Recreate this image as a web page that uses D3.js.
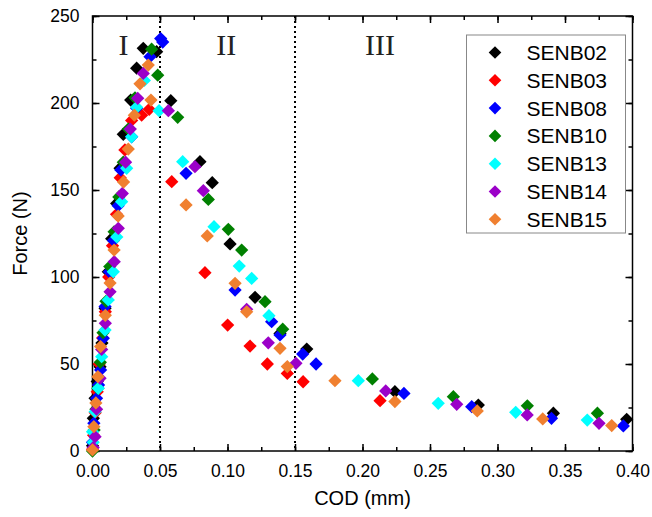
<!DOCTYPE html>
<html>
<head>
<meta charset="utf-8">
<script src="https://cdn.jsdelivr.net/npm/d3@7"></script>
<style>
  body { margin: 0; background: #fff; }
  svg { display: block; font-family: "Liberation Sans", Arial, sans-serif; }
</style>
</head>
<body>
<div id="chart"></div>
<script>
/////////////////////////////////////////////////////////
//////////////////////// Data ///////////////////////////
/////////////////////////////////////////////////////////

// each point is [COD (mm), Force (N)]
var senb02 = [[0,3],[0.0006,18.8],[0.0019,30.3],[0.0035,40],[0.0056,48.4],[0.007,62],[0.0093,82],[0.0117,103],[0.0142,122],[0.0179,142.3],[0.0204,162.5],[0.0228,182],[0.0283,201.7],[0.0327,220],[0.0376,231.4],[0.0475,229.5],[0.058,201.3],[0.0796,166.3],[0.0887,154.2],[0.1019,119],[0.1204,88.3],[0.1389,67.6],[0.1587,58.6],[0.224,34.1],[0.2858,26.4],[0.3414,21.7],[0.3957,18.2]];
var senb03 = [[0,1],[0.0008,9],[0.002,22],[0.0035,34],[0.005,50],[0.0075,65],[0.0095,80],[0.012,100],[0.0148,118],[0.0178,136],[0.0205,157],[0.024,173],[0.029,190],[0.0364,193],[0.042,196.4],[0.0587,154.8],[0.0833,102.5],[0.1001,72.4],[0.1167,60.3],[0.1295,50],[0.1443,44.6],[0.156,39.8],[0.213,28.9]];
var senb08 = [[0,5],[0.001,16],[0.003,30.3],[0.0045,38],[0.006,46.6],[0.008,64.8],[0.0093,83],[0.0125,103],[0.0155,121],[0.019,141],[0.021,161.5],[0.029,180.6],[0.0327,197],[0.0426,226.6],[0.0505,237],[0.052,235],[0.0693,159.6],[0.1056,92.5],[0.1327,74.3],[0.1389,66.7],[0.1557,55.7],[0.1656,50],[0.2307,33.1],[0.2809,25.5],[0.340,18.8],[0.3932,14.4]];
var senb10 = [[0,0],[0.0012,12],[0.0025,24],[0.004,36],[0.0058,51],[0.0078,68],[0.01,86],[0.0128,106],[0.016,126],[0.0195,146],[0.0228,166],[0.0265,185],[0.0315,203],[0.0438,230.9],[0.0483,216],[0.0631,191.8],[0.0858,144.6],[0.1006,127.4],[0.1105,115.5],[0.1278,85.8],[0.1409,70],[0.2073,41.4],[0.2673,31.2],[0.3221,26],[0.374,21.7]];
var senb13 = [[0.0005,5],[0,11],[0.0019,22.6],[0.0043,36],[0.0068,54.2],[0.0093,69.5],[0.0117,86.8],[0.0154,103],[0.018,123],[0.0216,143.3],[0.0253,162.5],[0.029,180.6],[0.0327,197.5],[0.0384,213],[0.0493,195.6],[0.0668,166.3],[0.090,128.9],[0.1087,106.3],[0.1179,99.2],[0.1307,77.8],[0.1969,40.4],[0.2561,27.4],[0.3135,22.2],[0.3665,17.8]];
var senb14 = [[0.0005,2],[0.0019,8.2],[0.003,24],[0.0056,41.8],[0.0068,58.4],[0.0095,73.4],[0.013,91.5],[0.0161,108.8],[0.0191,128],[0.0221,148],[0.0245,166],[0.028,185],[0.0335,202.7],[0.0376,217],[0.0562,195.6],[0.0759,163.4],[0.0821,149.6],[0.1142,81.4],[0.1302,62.2],[0.1507,50.4],[0.2172,34.5],[0.2698,26.8],[0.322,20.7],[0.3752,15.9]];
var senb15 = [[0,0.6],[0.001,14],[0.0025,27.6],[0.004,42.7],[0.006,60],[0.0095,78],[0.013,96.5],[0.016,115.5],[0.019,135],[0.023,154.6],[0.0265,173.5],[0.031,193],[0.0352,211],[0.0413,221.8],[0.0433,201.7],[0.0693,141.4],[0.085,123.6],[0.1056,96.4],[0.1142,80],[0.1389,59],[0.1443,48.5],[0.1796,40.4],[0.224,28.4],[0.285,23],[0.3335,18.4],[0.3846,14.6]];

var seriesNames = ['SENB02', 'SENB03', 'SENB08', 'SENB10', 'SENB13', 'SENB14', 'SENB15'];
var seriesValues = [senb02, senb03, senb08, senb10, senb13, senb14, senb15];
var seriesColors = ['#000000', '#ff0000', '#0000ff', '#008000', '#00ffff', '#9b00c8', '#f08030'];

var xTicks = [0, 0.05, 0.10, 0.15, 0.20, 0.25, 0.30, 0.35, 0.40];
var yTicks = [0, 50, 100, 150, 200, 250];
var stageBounds = [0.05, 0.15];
var stageLabels = [{text: 'I', x: 0.023}, {text: 'II', x: 0.099}, {text: 'III', x: 0.213}];

/////////////////////////////////////////////////////////
////////////////// Container & scales ///////////////////
/////////////////////////////////////////////////////////

var W = 652, H = 517;
var margin = {top: 16, right: 19.5, bottom: 66, left: 92.5};
var width = W - margin.left - margin.right;
var height = H - margin.top - margin.bottom;

var svg = d3.select('#chart').append('svg')
  .attr('width', W)
  .attr('height', H);

var g = svg.append('g')
  .attr('transform', 'translate(' + margin.left + ',' + margin.top + ')');

var x = d3.scaleLinear().domain([0, 0.4]).range([0, width]);
var y = d3.scaleLinear().domain([0, 250]).range([height, 0]);

var xMinor = d3.range(0, 0.4001, 0.025);
var yMinor = d3.range(0, 250.1, 25);

/////////////////////////////////////////////////////////
//////////////////////// Axes ///////////////////////////
/////////////////////////////////////////////////////////

function styleAxis(sel) {
  sel.select('.domain').remove();
  sel.selectAll('line').attr('stroke', '#000').attr('stroke-width', 1.5);
  sel.selectAll('text').attr('fill', '#000').style('font-size', '17.5px');
}

// minor ticks first (no labels)
g.append('g').attr('transform', 'translate(0,' + height + ')')
  .call(d3.axisBottom(x).tickValues(xMinor).tickSize(-4).tickFormat(''))
  .call(styleAxis);
g.append('g')
  .call(d3.axisTop(x).tickValues(xMinor).tickSize(-4).tickFormat(''))
  .call(styleAxis);
g.append('g')
  .call(d3.axisLeft(y).tickValues(yMinor).tickSize(-4).tickFormat(''))
  .call(styleAxis);
g.append('g').attr('transform', 'translate(' + width + ',0)')
  .call(d3.axisRight(y).tickValues(yMinor).tickSize(-4).tickFormat(''))
  .call(styleAxis);

// major ticks
g.append('g').attr('transform', 'translate(0,' + height + ')')
  .call(d3.axisBottom(x).tickValues(xTicks).tickSize(-7).tickPadding(14).tickFormat(d3.format('.2f')))
  .call(styleAxis);
g.append('g')
  .call(d3.axisTop(x).tickValues(xTicks).tickSize(-7).tickFormat(''))
  .call(styleAxis);
g.append('g')
  .call(d3.axisLeft(y).tickValues(yTicks).tickSize(-7).tickPadding(13).tickFormat(d3.format('d')))
  .call(styleAxis);
g.append('g').attr('transform', 'translate(' + width + ',0)')
  .call(d3.axisRight(y).tickValues(yTicks).tickSize(-7).tickFormat(''))
  .call(styleAxis);

// frame
g.append('rect')
  .attr('width', width)
  .attr('height', height)
  .attr('fill', 'none')
  .attr('stroke', '#000')
  .attr('stroke-width', 1.5);

// axis titles
svg.append('text')
  .attr('x', margin.left + width / 2)
  .attr('y', 505)
  .attr('text-anchor', 'middle')
  .style('font-size', '20px')
  .text('COD (mm)');

svg.append('text')
  .attr('transform', 'translate(27,' + (margin.top + height / 2) + ') rotate(-90)')
  .attr('text-anchor', 'middle')
  .style('font-size', '20px')
  .text('Force (N)');

/////////////////////////////////////////////////////////
///////////////// Stage separators //////////////////////
/////////////////////////////////////////////////////////

g.selectAll('.stage-line')
  .data(stageBounds)
  .enter()
  .append('line')
  .attr('class', 'stage-line')
  .attr('x1', function(d) { return x(d); })
  .attr('x2', function(d) { return x(d); })
  .attr('y1', 0)
  .attr('y2', height)
  .attr('stroke', '#000')
  .attr('stroke-width', 2)
  .attr('stroke-dasharray', '2,3');

g.selectAll('.stage-label')
  .data(stageLabels)
  .enter()
  .append('text')
  .attr('class', 'stage-label')
  .attr('x', function(d) { return x(d.x); })
  .attr('y', 39)
  .attr('text-anchor', 'middle')
  .style('font-family', '"Liberation Serif", "Times New Roman", serif')
  .style('font-size', '30px')
  .attr('fill', '#222')
  .text(function(d) { return d.text; });

/////////////////////////////////////////////////////////
/////////////////////// Markers /////////////////////////
/////////////////////////////////////////////////////////

var diamond = d3.symbol().type(d3.symbolSquare).size(88);

seriesValues.forEach(function(vals, i) {
  g.append('g').attr('class', 'series')
    .selectAll('path')
    .data(vals)
    .enter()
    .append('path')
    .attr('d', diamond)
    .attr('transform', function(d) {
      return 'translate(' + x(d[0]) + ',' + y(d[1]) + ') rotate(45)';
    })
    .attr('fill', seriesColors[i]);
});

/////////////////////////////////////////////////////////
/////////////////////// Legend //////////////////////////
/////////////////////////////////////////////////////////

var legend = svg.append('g')
  .attr('transform', 'translate(466.5,35)');

legend.append('rect')
  .attr('width', 159)
  .attr('height', 198)
  .attr('fill', '#fff')
  .attr('stroke', '#888')
  .attr('stroke-width', 1);

var rows = legend.selectAll('.row')
  .data(seriesNames)
  .enter()
  .append('g')
  .attr('class', 'row')
  .attr('transform', function(d, i) { return 'translate(0,' + (17.5 + i * 27.8) + ')'; });

rows.append('path')
  .attr('d', d3.symbol().type(d3.symbolSquare).size(80))
  .attr('transform', 'translate(28.5,0) rotate(45)')
  .attr('fill', function(d, i) { return seriesColors[i]; });

rows.append('text')
  .attr('x', 60)
  .attr('dy', '0.36em')
  .style('font-size', '21px')
  .text(function(d) { return d; });
</script>
</body>
</html>
